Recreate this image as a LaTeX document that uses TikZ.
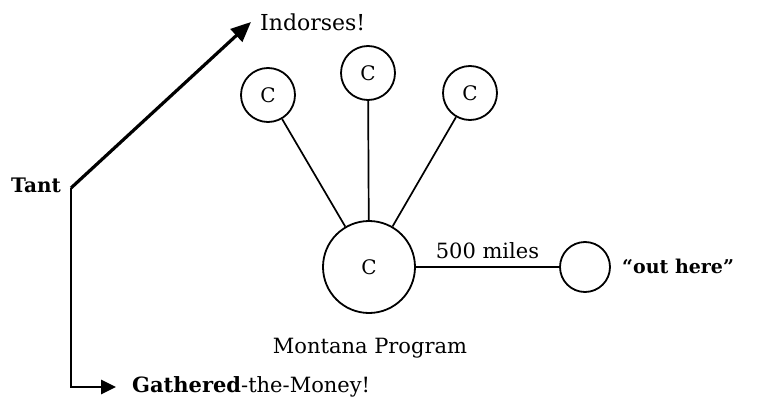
\documentclass[tikz,border=0pt]{standalone}
\usepackage{fontspec}
\setmainfont{DejaVu Serif}
\usetikzlibrary{arrows.meta}
\begin{document}
\begin{tikzpicture}[x=1pt,y=-1pt,
  ring/.style={draw,circle,line width=1.8pt,inner sep=0pt},
  small/.style={ring,minimum size=54pt},
  conn/.style={line width=1.7pt},
  bigarrow/.style={line width=3.2pt,-{Triangle[length=20pt,width=17pt]}},
  lowarrow/.style={line width=2.8pt,-{Triangle[length=15pt,width=14pt]}},
  lbl/.style={inner sep=0pt,font=\fontsize{21}{24}\selectfont},
  cfont/.style={font=\fontsize{20}{22}\selectfont}]
\useasboundingbox (0,0) rectangle (758,404);
\fill[white] (0,0) rectangle (758,404);
% left part
\node[lbl,font=\fontsize{20}{24}\selectfont\bfseries] (tant) at (36,185) {Tant};
\coordinate (J) at (71,188);
\node[lbl,anchor=west,font=\fontsize{22}{24}\selectfont] (ind) at (260,22) {Indorses!};
\node[lbl,anchor=west] (gat) at (132,387) {\textbf{Gathered}-the-Money!};
\coordinate (indtip) at (251,22);
\coordinate (gattip) at (116,387);
\draw[bigarrow] (J) -- (indtip);
\draw[lowarrow] (J) |- (gattip);
% circles
\node[small,cfont] (c1) at (268,95) {C};
\node[small,cfont] (c2) at (368,73) {C};
\node[small,cfont] (c3) at (470,93) {C};
\node[ring,minimum size=92pt,cfont] (big) at (369,267) {C};
\node[ring,minimum size=50pt] (out) at (585,267) {};
\draw[conn] (c1) -- (big);
\draw[conn] (c2) -- (big);
\draw[conn] (c3) -- (big);
\draw[conn] (big) -- node[lbl,above=7pt] {500 miles} (out);
\node[lbl,anchor=west,font=\fontsize{19}{22}\selectfont\bfseries] (oh) at (622,266) {``out here''};
\node[lbl] (mp) at (370,348) {Montana Program};
\end{tikzpicture}
\end{document}
